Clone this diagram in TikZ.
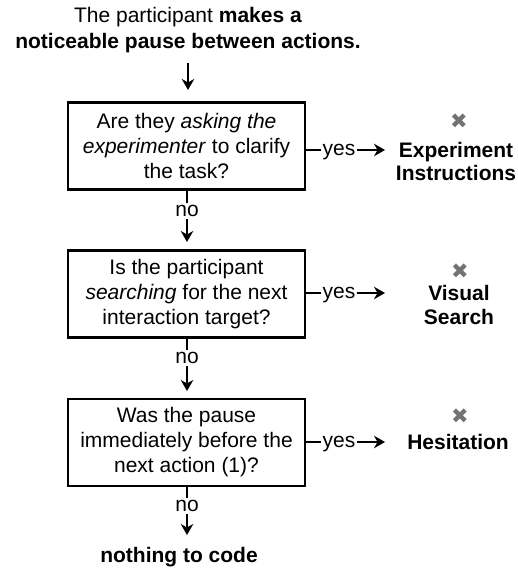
\documentclass[tikz,border=0pt]{standalone}
\usepackage{fontspec}
\setmainfont{Liberation Sans}
\newfontfamily\symfont{DejaVu Sans}
\usetikzlibrary{arrows.meta}

\tikzstyle{question}=[shape=rectangle,draw=black,line width=2.6pt,minimum width=237pt,minimum height=87pt,align=center,inner sep=0pt,font=\fontsize{21}{25}\selectfont]
\tikzstyle{label}=[inner sep=2pt,text depth=0pt,font=\fontsize{21}{22}\selectfont]
\tikzstyle{code}=[align=center,inner sep=0pt,font=\fontsize{21}{23.5}\selectfont\bfseries]
\tikzstyle{cross}=[inner sep=0pt,text=black!55,font=\fontsize{21}{21}\selectfont\symfont]
\tikzstyle{arr}=[line width=1.9pt,-{Stealth[length=11pt,width=12.5pt,inset=3.5pt]}]
\tikzstyle{stub}=[line width=2.4pt]

\begin{document}
\begin{tikzpicture}[x=1pt,y=-1pt]
        \useasboundingbox (0,0) rectangle (518,569);
        % start and end
        \node[code,font=\fontsize{21}{26}\selectfont] (start) at (188,30)
            {The participant \textbf{makes a}\\\textbf{noticeable pause between actions.}};
        \node[code] (stop) at (179,557) {nothing to code};
        \coordinate (a0) at (188,63);
        \coordinate (a1) at (188,90);
        \draw[arr] (a0) -- (a1);

        % questions
        \node[question] (q1) at (186.5,146)
            {Are they \emph{asking the}\\\emph{experimenter} to clarify\\the task?};
        \node[question] (q2) at (186.5,294)
            {Is the participant\\\emph{searching} for the next\\interaction target?};
        \node[question] (q3) at (186.5,442.5)
            {Was the pause\\immediately before the\\next action (1)?};

        % no branches
        \node[label] (n1) at (187,211) {no};
        \node[label] (n2) at (187,358) {no};
        \node[label] (n3) at (187,506) {no};
        \coordinate (m1) at (187,242);
        \coordinate (m2) at (187,391);
        \coordinate (m3) at (187,535);
        \draw[stub] (q1.south -| n1) -- (n1.north);
        \draw[stub] (q2.south -| n2) -- (n2.north);
        \draw[stub] (q3.south -| n3) -- (n3.north);
        \draw[arr] (n1.south) -- (m1);
        \draw[arr] (n2.south) -- (m2);
        \draw[arr] (n3.south) -- (m3);

        % codes
        \node[code] (c1) at (456,161.5) {Experiment\\Instructions};
        \node[code] (c2) at (459,305) {Visual\\Search};
        \node[code] (c3) at (458,442) {Hesitation};
        \node[cross] (x1) at (459,121) {✖};
        \node[cross] (x2) at (460,271) {✖};
        \node[cross] (x3) at (460,416) {✖};

        % yes branches
        \node[label,inner xsep=1.5pt] (y1) at (339,150) {yes};
        \node[label,inner xsep=1.5pt] (y2) at (339,293) {yes};
        \node[label,inner xsep=1.5pt] (y3) at (339,442) {yes};
        \coordinate (e1) at (385,150);
        \coordinate (e2) at (385,293);
        \coordinate (e3) at (385,442);
        \draw[stub] (q1.east |- y1) -- (y1.west);
        \draw[stub] (q2.east |- y2) -- (y2.west);
        \draw[stub] (q3.east |- y3) -- (y3.west);
        \draw[arr] (y1.east) -- (e1);
        \draw[arr] (y2.east) -- (e2);
        \draw[arr] (y3.east) -- (e3);
    \end{tikzpicture}
\end{document}
